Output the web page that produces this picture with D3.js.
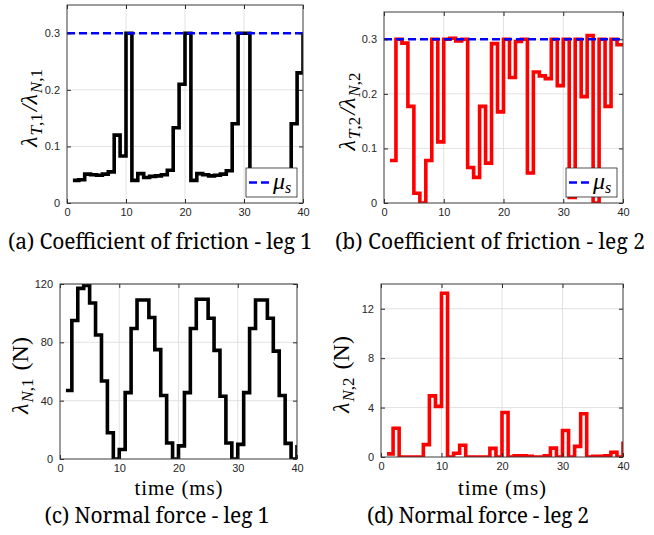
<!DOCTYPE html>
<html>
<head>
<meta charset="utf-8">
<script src="https://cdn.jsdelivr.net/npm/d3@7/dist/d3.min.js"></script>
<style>
  body { margin: 0; background: #fff; }
  svg { display: block; }
  .tick text { font-family: "Liberation Sans", Arial, sans-serif; font-size: 11px; fill: #262626; }
  .tick line { stroke: #262626; }
</style>
</head>
<body>
<div id="chart"></div>
<script>
// sample times (ms)
const time = [1, 2, 3, 4, 5, 6, 7, 8, 9, 10,
  11, 12, 13, 14, 15, 16, 17, 18, 19, 20,
  21, 22, 23, 24, 25, 26, 27, 28, 29, 30,
  31, 32, 33, 34, 35, 36, 37, 38, 39, 40];

// lambda_T / lambda_N, leg 1 and leg 2
const frictionLeg1 = [0.040, 0.041, 0.051, 0.050, 0.049, 0.051, 0.055, 0.120, 0.083, 0.300,
  0.040, 0.052, 0.045, 0.047, 0.048, 0.050, 0.058, 0.133, 0.210, 0.300,
  0.040, 0.052, 0.050, 0.048, 0.049, 0.051, 0.057, 0.140, 0.300, 0.300,
  0.040, 0.052, 0.047, 0.048, 0.049, 0.051, 0.058, 0.140, 0.230, 0.300];
const frictionLeg2 = [0.078, 0.300, 0.293, 0.177, 0.018, 0.000, 0.078, 0.300, 0.112, 0.300,
  0.302, 0.297, 0.300, 0.065, 0.047, 0.177, 0.073, 0.292, 0.167, 0.300,
  0.230, 0.296, 0.300, 0.055, 0.240, 0.233, 0.228, 0.300, 0.215, 0.300,
  0.010, 0.300, 0.195, 0.307, 0.000, 0.300, 0.177, 0.300, 0.290, 0.290];

// normal force (N), leg 1 and leg 2
const normalLeg1 = [47, 95, 117, 119, 107, 85, 53.5, 18, 0, 6.5,
  45.5, 89.5, 109, 109, 97, 75, 43.5, 11, 0, 9,
  45.5, 89.5, 109.5, 109.5, 96.5, 74.5, 43, 11, 0, 10,
  45.5, 89.5, 109, 109, 96.5, 74, 43.5, 10.7, 0, 9.6];
const normalLeg2 = [0.25, 2.33, 0, 0, 0, 0, 1.0, 4.95, 4.1, 13.25,
  0, 0.3, 0.95, 0, 0, 0, 0, 0.7, 0, 3.6,
  0, 0.1, 0.1, 0.05, 0, 0, 0.1, 0.72, 0, 2.15,
  0, 0.86, 3.5, 0, 0.05, 0.05, 0.1, 0.38, 0, 1.26];

const muS = 0.3;

const xTicks = [0, 10, 20, 30, 40];
const frictionTicks = [0, 0.1, 0.2, 0.3];
const normalLeg1Ticks = [0, 40, 80, 120];
const normalLeg2Ticks = [0, 4, 8, 12];

const width = 654;
const height = 535;
const texFont = `"Liberation Serif", "Times New Roman", serif`;
const captionFont = `"Noto Serif", "Liberation Serif", serif`;

const svg = d3.select(`#chart`)
  .append(`svg`)
    .attr(`width`, width)
    .attr(`height`, height);

const panels = [
  {id: `a`, left: 67, right: 303, top: 5, bottom: 203, yMax: 0.35, ticks: frictionTicks,
    values: frictionLeg1, color: `#000`, mu: true, yLab: [`λ`, `T,1`, `/λ`, `N,1`], yLabX: 37,
    xLabel: false, caption: `(a) Coefficient of friction - leg 1`, capX: 160, capY: 249, capW: 304},
  {id: `b`, left: 384, right: 623, top: 12, bottom: 203, yMax: 0.35, ticks: frictionTicks,
    values: frictionLeg2, color: `#ff0000`, mu: true, yLab: [`λ`, `T,2`, `/λ`, `N,2`], yLabX: 355,
    xLabel: false, caption: `(b) Coefficient of friction - leg 2`, capX: 490, capY: 249, capW: 310},
  {id: `c`, left: 60, right: 297, top: 284, bottom: 459, yMax: 120, ticks: normalLeg1Ticks,
    values: normalLeg1, color: `#000`, mu: false, yLab: [`λ`, `N,1`, ` (N)`], yLabX: 28,
    xLabel: true, caption: `(c) Normal force - leg 1`, capX: 157, capY: 523, capW: 225},
  {id: `d`, left: 381, right: 623, top: 284, bottom: 457, yMax: 14, ticks: normalLeg2Ticks,
    values: normalLeg2, color: `#ff0000`, mu: false, yLab: [`λ`, `N,2`, ` (N)`], yLabX: 349,
    xLabel: true, caption: `(d) Normal force - leg 2`, capX: 478, capY: 523, capW: 222},
];

const fmtTick = d => d === 0 ? `0` : (d < 1 ? d3.format(`.1f`)(d) : d3.format(`d`)(d));

function drawPanel(p) {
  const x = d3.scaleLinear().domain([0, 40]).range([p.left, p.right]);
  const y = d3.scaleLinear().domain([0, p.yMax]).range([p.bottom, p.top]);
  const g = svg.append(`g`).attr(`class`, `panel-${p.id}`);

  // grid
  g.append(`g`).selectAll(`line`)
    .data(xTicks.slice(1, -1))
    .join(`line`)
      .attr(`x1`, d => x(d)).attr(`x2`, d => x(d))
      .attr(`y1`, p.top).attr(`y2`, p.bottom)
      .attr(`stroke`, `#e2e2e2`);
  g.append(`g`).selectAll(`line`)
    .data(p.ticks.filter(d => d > 0))
    .join(`line`)
      .attr(`x1`, p.left).attr(`x2`, p.right)
      .attr(`y1`, d => y(d)).attr(`y2`, d => y(d))
      .attr(`stroke`, `#e2e2e2`);

  g.append(`clipPath`).attr(`id`, `clip-${p.id}`)
    .append(`rect`)
      .attr(`x`, p.left).attr(`y`, p.top)
      .attr(`width`, p.right - p.left).attr(`height`, p.bottom - p.top);

  const line = d3.line()
    .x((d, i) => x(time[i]))
    .y(d => y(d))
    .curve(d3.curveStepAfter);

  g.append(`path`)
    .datum(p.values)
    .attr(`clip-path`, `url(#clip-${p.id})`)
    .attr(`d`, line)
    .attr(`fill`, `none`)
    .attr(`stroke`, p.color)
    .attr(`stroke-width`, 3.6)
    .attr(`stroke-linejoin`, `miter`);

  if (p.mu) {
    g.append(`line`)
      .attr(`x1`, x(0)).attr(`x2`, x(40))
      .attr(`y1`, y(muS)).attr(`y2`, y(muS))
      .attr(`stroke`, `#0000ff`)
      .attr(`stroke-width`, 2.5)
      .attr(`stroke-dasharray`, `8,4`);
  }

  // axes, ticks inside on all four sides
  g.append(`g`)
    .attr(`transform`, `translate(0,${p.bottom})`)
    .call(d3.axisBottom(x).tickValues(xTicks).tickSizeInner(-4).tickSizeOuter(0).tickPadding(5))
    .call(a => a.select(`.domain`).remove());
  g.append(`g`)
    .attr(`transform`, `translate(0,${p.top})`)
    .call(d3.axisTop(x).tickValues(xTicks).tickSizeInner(-4).tickSizeOuter(0).tickFormat(``))
    .call(a => a.select(`.domain`).remove());
  g.append(`g`)
    .attr(`transform`, `translate(${p.left},0)`)
    .call(d3.axisLeft(y).tickValues(p.ticks).tickSizeInner(-4).tickSizeOuter(0).tickPadding(7).tickFormat(fmtTick))
    .call(a => a.select(`.domain`).remove());
  g.append(`g`)
    .attr(`transform`, `translate(${p.right},0)`)
    .call(d3.axisRight(y).tickValues(p.ticks).tickSizeInner(-4).tickSizeOuter(0).tickFormat(``))
    .call(a => a.select(`.domain`).remove());

  g.append(`rect`)
    .attr(`x`, p.left).attr(`y`, p.top)
    .attr(`width`, p.right - p.left).attr(`height`, p.bottom - p.top)
    .attr(`fill`, `none`)
    .attr(`stroke`, `#3a3a3a`)
    .attr(`stroke-width`, 1);

  // legend
  if (p.mu) {
    const lw = 51, lh = 29;
    const lx = p.right - 6 - lw, ly = p.bottom - 6 - lh;
    const lg = g.append(`g`).attr(`transform`, `translate(${lx},${ly})`);
    lg.append(`rect`)
      .attr(`width`, lw).attr(`height`, lh)
      .attr(`fill`, `#fff`)
      .attr(`stroke`, `#262626`)
      .attr(`stroke-width`, 0.8);
    lg.append(`line`)
      .attr(`x1`, 3).attr(`x2`, 25)
      .attr(`y1`, lh / 2).attr(`y2`, lh / 2)
      .attr(`stroke`, `#0000ff`)
      .attr(`stroke-width`, 2.5)
      .attr(`stroke-dasharray`, `8,4`);
    const t = lg.append(`text`)
      .attr(`x`, 27).attr(`y`, lh / 2 + 6)
      .style(`font-family`, texFont)
      .style(`font-size`, `24px`)
      .style(`font-style`, `italic`);
    t.append(`tspan`).text(`μ`);
    t.append(`tspan`).attr(`dy`, 4).style(`font-size`, `16px`).text(`s`);
  }

  // y label
  const yl = g.append(`text`)
    .attr(`transform`, `translate(${p.yLabX},${(p.top + p.bottom) / 2 + 4}) rotate(-90)`)
    .attr(`text-anchor`, `middle`)
    .style(`font-family`, texFont)
    .style(`font-size`, `24px`);
  p.yLab.forEach((s, i) => {
    if (i % 2 === 0) {
      const ts = yl.append(`tspan`);
      if (i > 0) ts.attr(`dy`, -5).attr(`dx`, 2);
      ts.style(`font-style`, s.includes(`λ`) ? `italic` : `normal`).text(s);
    } else {
      const [a, b] = s.split(`,`);
      yl.append(`tspan`).attr(`dy`, 5).attr(`dx`, 1).style(`font-size`, `17px`).style(`font-style`, `italic`).text(a);
      yl.append(`tspan`).style(`font-size`, `17px`).text(`,${b}`);
    }
  });

  if (p.xLabel) {
    g.append(`text`)
      .attr(`x`, (p.left + p.right) / 2)
      .attr(`y`, 495)
      .attr(`text-anchor`, `middle`)
      .attr(`textLength`, 88)
      .attr(`lengthAdjust`, `spacing`)
      .style(`font-family`, texFont)
      .style(`font-size`, `21px`)
      .text(`time (ms)`);
  }

  svg.append(`text`)
    .attr(`x`, p.capX)
    .attr(`y`, p.capY)
    .attr(`text-anchor`, `middle`)
    .attr(`textLength`, p.capW)
    .attr(`lengthAdjust`, `spacing`)
    .style(`font-family`, captionFont)
    .style(`font-size`, `21px`)
    .text(p.caption);
}

panels.forEach(drawPanel);
</script>
</body>
</html>
